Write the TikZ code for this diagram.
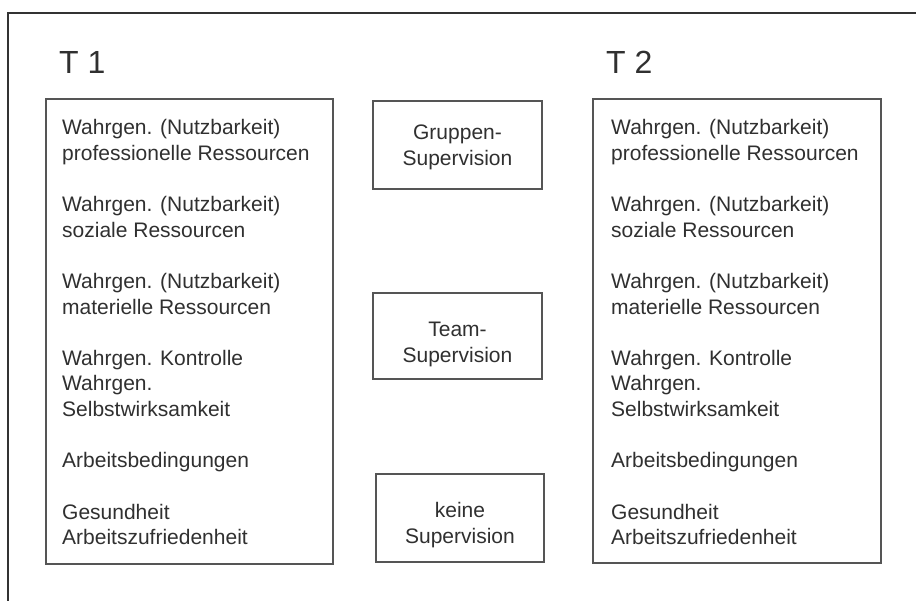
\documentclass[tikz,border=0pt]{standalone}
\usepackage{fontspec}
\setmainfont{Liberation Sans}
\definecolor{ink}{HTML}{303030}
\definecolor{edge}{HTML}{555555}
\definecolor{frameline}{HTML}{333333}

\begin{document}
\begin{tikzpicture}[x=1pt,y=-1pt,
  panel/.style={draw=edge, line width=1.4pt, inner sep=0pt, outer sep=0pt, anchor=north west},
  entry/.style={font=\fontsize{21}{25.6}\selectfont, text=ink, inner sep=0pt, anchor=base west},
  option/.style={font=\fontsize{21}{25.6}\selectfont, text=ink, inner sep=0pt, anchor=base},
  heading/.style={font=\fontsize{32}{38}\selectfont, text=ink, inner sep=0pt, anchor=base west}]

  \useasboundingbox (0,0) rectangle (916,601);
  \fill[white] (0,0) rectangle (916,601);

  % open outer frame (left and top sides)
  \draw[frameline, line width=2.4pt] (8,601) -- (8,13) -- (916,13);

  % headings
  \node[heading] (t1) at (59,74) {T 1};
  \node[heading] (t2) at (606,74) {T 2};

  % measurement panels
  \node[panel, minimum width=287pt, minimum height=465pt] (left) at (46,99) {};
  \node[panel, minimum width=288pt, minimum height=464pt] (right) at (593,99) {};

  % intervention boxes
  \node[panel, minimum width=169pt, minimum height=88pt] (grp) at (373,101) {};
  \node[panel, minimum width=169pt, minimum height=86pt] (team) at (373,293) {};
  \node[panel, minimum width=168pt, minimum height=88pt] (none) at (376,474) {};

  \node[option] (grp1) at (grp.center |- 0,140) {Gruppen-};
  \node[option] (grp2) at (grp.center |- 0,166) {Supervision};
  \node[option] (team1) at (team.center |- 0,337) {Team-};
  \node[option] (team2) at (team.center |- 0,363) {Supervision};
  \node[option] (none1) at (none.center |- 0,517) {keine};
  \node[option] (none2) at (none.center |- 0,543) {Supervision};

  % variable lists in both panels (line index / text)
  \foreach \k/\t in {
      0/{Wahrgen. (Nutzbarkeit)},
      1/{professionelle Ressourcen},
      3/{Wahrgen. (Nutzbarkeit)},
      4/{soziale Ressourcen},
      6/{Wahrgen. (Nutzbarkeit)},
      7/{materielle Ressourcen},
      9/{Wahrgen. Kontrolle},
      10/{Wahrgen.},
      11/{Selbstwirksamkeit},
      13/{Arbeitsbedingungen},
      15/{Gesundheit},
      16/{Arbeitszufriedenheit}} {
    \node[entry] (l\k) at (62,{135+\k*25.6}) {\t};
    \node[entry] (r\k) at (611,{135+\k*25.6}) {\t};
  }
\end{tikzpicture}
\end{document}
